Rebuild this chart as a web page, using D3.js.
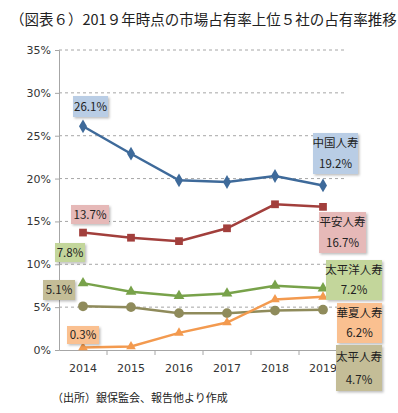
<!DOCTYPE html>
<html>
<head>
<meta charset="utf-8">
<script src="https://cdn.jsdelivr.net/npm/d3@7"></script>
<style>
  body { margin: 0; background: #fff; }
  svg { display: block; font-family: "Noto Sans CJK JP", "DejaVu Sans", sans-serif; }
</style>
</head>
<body>
<svg width="398" height="413"></svg>
<script>
var years = ["2014", "2015", "2016", "2017", "2018", "2019"];
var yTicks = [0, 5, 10, 15, 20, 25, 30, 35];

var chinaLife = [26.1, 22.9, 19.8, 19.6, 20.3, 19.2];
var pingAn    = [13.7, 13.1, 12.7, 14.2, 17.0, 16.7];
var cpic      = [7.8, 6.8, 6.3, 6.6, 7.5, 7.2];
var huaxia    = [0.3, 0.4, 2.0, 3.2, 5.9, 6.2];
var taiping   = [5.1, 5.0, 4.3, 4.3, 4.6, 4.7];

var seriesNames = ["中国人寿", "平安人寿", "太平洋人寿", "華夏人寿", "太平人寿"];

var svg = d3.select("svg");

var x = d3.scaleBand().domain(years).range([59, 347]);
var y = d3.scaleLinear().domain([0, 35]).range([350, 50]);
var cx = function(d, i) { return x(years[i]) + x.bandwidth() / 2; };

// title
svg.append("text")
    .attr("x", 10).attr("y", 25)
    .attr("font-size", 14.5).attr("fill", "#222")
    .text("（図表６）201９年時点の市場占有率上位５社の占有率推移");

// shadow filter for label boxes
var f = svg.append("defs").append("filter").attr("id", "sh")
    .attr("x", "-20%").attr("y", "-20%").attr("width", "150%").attr("height", "150%");
f.append("feDropShadow").attr("dx", 1.5).attr("dy", 1.5).attr("stdDeviation", 1)
    .attr("flood-color", "#000").attr("flood-opacity", 0.25);

// gridlines
svg.append("g").selectAll("line")
    .data(yTicks.filter(function(d) { return d > 0; }))
    .enter().append("line")
    .attr("x1", 59).attr("x2", 347)
    .attr("y1", function(d) { return y(d); }).attr("y2", function(d) { return y(d); })
    .attr("stroke", "#a6a6a6").attr("stroke-dasharray", "3,3");

// y axis
var yAxis = svg.append("g").attr("transform", "translate(59,0)")
    .call(d3.axisLeft(y).tickValues(yTicks).tickSize(4).tickPadding(4)
        .tickFormat(function(d) { return d + "%"; }));
yAxis.select(".domain").attr("stroke", "#a6a6a6");
yAxis.selectAll(".tick line").attr("stroke", "#a6a6a6");
yAxis.selectAll("text").attr("font-size", 11).attr("fill", "#333")
    .attr("font-family", "'DejaVu Sans', sans-serif");

// x axis
var xAxis = svg.append("g").attr("transform", "translate(0,350)")
    .call(d3.axisBottom(x).tickSize(0).tickPadding(14));
xAxis.select(".domain").attr("stroke", "#a6a6a6");
xAxis.selectAll("text").attr("font-size", 11).attr("fill", "#333")
    .attr("font-family", "'DejaVu Sans', sans-serif");
svg.append("g").selectAll("line")
    .data(years.slice(1).concat(["end"]))
    .enter().append("line")
    .attr("x1", function(d, i) { return x.range()[0] + x.step() * (i + 1); })
    .attr("x2", function(d, i) { return x.range()[0] + x.step() * (i + 1); })
    .attr("y1", 350).attr("y2", 355)
    .attr("stroke", "#a6a6a6");

var series = [
  { vals: chinaLife, color: "#3e6a9a", sym: d3.symbolDiamond, size: 55 },
  { vals: pingAn,    color: "#a23f3c", sym: d3.symbolSquare,  size: 60 },
  { vals: cpic,      color: "#78a24a", sym: d3.symbolTriangle, size: 50 },
  { vals: taiping,   color: "#8f8b5b", sym: d3.symbolCircle,  size: 75 },
  { vals: huaxia,    color: "#f39a4f", sym: d3.symbolTriangle, size: 40 }
];

var line = d3.line()
    .x(function(d, i) { return cx(d, i); })
    .y(function(d) { return y(d); });

series.forEach(function(s) {
  svg.append("path").datum(s.vals)
      .attr("d", line).attr("fill", "none")
      .attr("stroke", s.color).attr("stroke-width", 2.5);
  svg.append("g").selectAll("path")
      .data(s.vals).enter().append("path")
      .attr("d", d3.symbol().type(s.sym).size(s.size))
      .attr("transform", function(d, i) { return "translate(" + cx(d, i) + "," + y(d) + ")"; })
      .attr("fill", s.color);
});

// data labels
function box(x0, y0, w, h, fill, lines) {
  var g = svg.append("g");
  g.append("rect").attr("x", x0).attr("y", y0).attr("width", w).attr("height", h)
      .attr("fill", fill).attr("filter", "url(#sh)");
  var step = lines.length > 1 ? h / lines.length : h;
  lines.forEach(function(t, i) {
    g.append("text")
        .attr("x", x0 + w / 2)
        .attr("y", y0 + step * i + step / 2 + 4)
        .attr("text-anchor", "middle")
        .attr("font-size", 11.5).attr("fill", "#222")
        .text(t);
  });
}

var last = years.length - 1;
box(73, 96, 35, 21, "#b9cde5", [chinaLife[0].toFixed(1) + "%"]);
box(313, 133, 45, 41, "#b9cde5", [seriesNames[0], chinaLife[last].toFixed(1) + "%"]);
box(71, 205, 38, 19, "#e6b9b8", [pingAn[0].toFixed(1) + "%"]);
box(319, 212, 47, 41, "#e6b9b8", [seriesNames[1], pingAn[last].toFixed(1) + "%"]);
box(55, 243, 30, 19, "#c3d69b", [cpic[0].toFixed(1) + "%"]);
box(326, 260, 56, 40, "#c3d69b", [seriesNames[2], cpic[last].toFixed(1) + "%"]);
box(43, 280, 32, 20, "#c4bd97", [taiping[0].toFixed(1) + "%"]);
box(67, 326, 32, 18, "#fac090", [huaxia[0].toFixed(1) + "%"]);
box(337, 303, 45, 40, "#fac090", [seriesNames[3], huaxia[last].toFixed(1) + "%"]);
box(336, 345, 46, 46, "#c4bd97", [seriesNames[4], taiping[last].toFixed(1) + "%"]);

// source
svg.append("text")
    .attr("x", 52).attr("y", 402)
    .attr("font-size", 11).attr("fill", "#222")
    .text("（出所）銀保監会、報告他より作成");
</script>
</body>
</html>
